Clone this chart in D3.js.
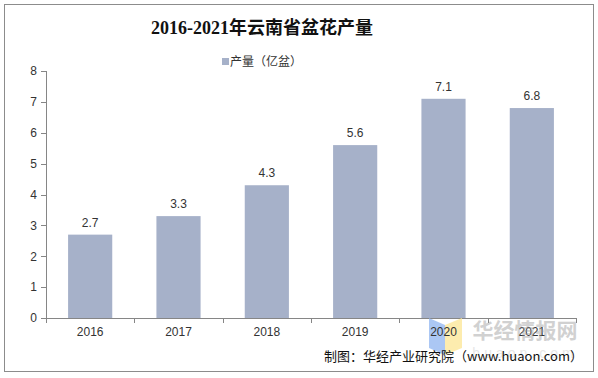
<!DOCTYPE html>
<html><head><meta charset="utf-8">
<script src="https://cdn.jsdelivr.net/npm/d3@7"></script>
<style>body{margin:0;background:#fff}svg{display:block}</style>
</head><body>
<svg id="c" width="598" height="378"></svg>
<script>
const years = ["2016","2017","2018","2019","2020","2021"];
const values = [2.7, 3.3, 4.3, 5.6, 7.1, 6.8];
const yTicks = [0,1,2,3,4,5,6,7,8];
const title = "2016-2021年云南省盆花产量";
const legendLabel = "产量（亿盆）";
const source = "制图：华经产业研究院（www.huaon.com）";

const svg = d3.select("#c");
const cjk = "'Noto Sans CJK SC', sans-serif";
const latin = "'Liberation Sans', Arial, 'Noto Sans CJK SC', sans-serif";
const barColor = "#A6B1C9";

svg.append("rect").attr("x",4.5).attr("y",4.5).attr("width",589).attr("height",367)
  .attr("fill","#fff").attr("stroke","#8c8c8c").attr("stroke-width",1);

svg.append("text").attr("x",262).attr("y",34).attr("text-anchor","middle")
  .attr("font-family","'Liberation Serif', 'Noto Sans CJK SC', serif").attr("font-weight","bold")
  .attr("font-size",18).attr("fill","#111").text(title);

svg.append("rect").attr("x",222).attr("y",58).attr("width",7).attr("height",7).attr("fill",barColor);
svg.append("text").attr("x",230).attr("y",66).attr("font-family",cjk).attr("font-size",12)
  .attr("fill","#333").text(legendLabel);

const x = d3.scaleBand().domain(years).range([46,576]).paddingInner(0.5).paddingOuter(0.25);
const y = d3.scaleLinear().domain([0,8]).range([318,71]);

const axisColor = "#868686";
const yAxis = svg.append("g").attr("transform","translate(46,0)")
  .call(d3.axisLeft(y).tickValues(yTicks).tickSize(5).tickPadding(4).tickFormat(d3.format("d")));
yAxis.selectAll("path,line").attr("stroke",axisColor).attr("shape-rendering","crispEdges");
yAxis.selectAll("text").attr("font-family",latin).attr("font-size",12).attr("fill","#333");

svg.selectAll("rect.bar").data(values).join("rect").attr("class","bar")
  .attr("x",(d,i)=>x(years[i])).attr("width",x.bandwidth())
  .attr("y",d=>y(d)).attr("height",d=>y(0)-y(d)).attr("fill",barColor);

svg.selectAll("text.lbl").data(values).join("text").attr("class","lbl")
  .attr("x",(d,i)=>x(years[i])+x.bandwidth()/2).attr("y",d=>y(d)-8)
  .attr("text-anchor","middle").attr("font-family",latin).attr("font-size",12).attr("fill","#333")
  .text(d=>d3.format(".1f")(d));

// x axis
const xa = svg.append("g");
xa.append("line").attr("x1",46).attr("x2",576).attr("y1",y(0)+0.5).attr("y2",y(0)+0.5)
  .attr("stroke",axisColor);
const bounds = d3.range(years.length+1).map(i=>x.range()[0]+i*x.step());
xa.selectAll("line.t").data(bounds).join("line").attr("class","t")
  .attr("x1",d=>Math.round(d)+0.5).attr("x2",d=>Math.round(d)+0.5)
  .attr("y1",y(0)).attr("y2",y(0)+5).attr("stroke",axisColor);

// watermark logo
svg.append("polygon").attr("points","429,318 445,325 445,355 429,348").attr("fill","#8fb4f0").attr("opacity",0.75);
svg.append("polygon").attr("points","445,325 462,318 462,348 445,355").attr("fill","#fde9a0").attr("opacity",0.85);

svg.selectAll("text.xl").data(years).join("text").attr("class","xl")
  .attr("x",d=>x(d)+x.bandwidth()/2).attr("y",336).attr("text-anchor","middle")
  .attr("font-family",latin).attr("font-size",12).attr("fill","#333").text(d=>d);

svg.append("text").attr("x",525).attr("y",338).attr("text-anchor","middle")
  .attr("font-family",cjk).attr("font-weight","bold").attr("font-size",21)
  .attr("fill","#9a9a9a").attr("opacity",0.45).text("华经情报网");
svg.append("text").attr("x",525).attr("y",358).attr("text-anchor","middle")
  .attr("font-family",latin).attr("font-size",14).attr("letter-spacing",4)
  .attr("fill","#bbb").attr("opacity",0.35).text("huaon.com");

svg.append("text").attr("x",583).attr("y",361).attr("text-anchor","end")
  .attr("font-family",cjk).attr("font-size",13).attr("fill","#111").text(source);
</script>
</body></html>
